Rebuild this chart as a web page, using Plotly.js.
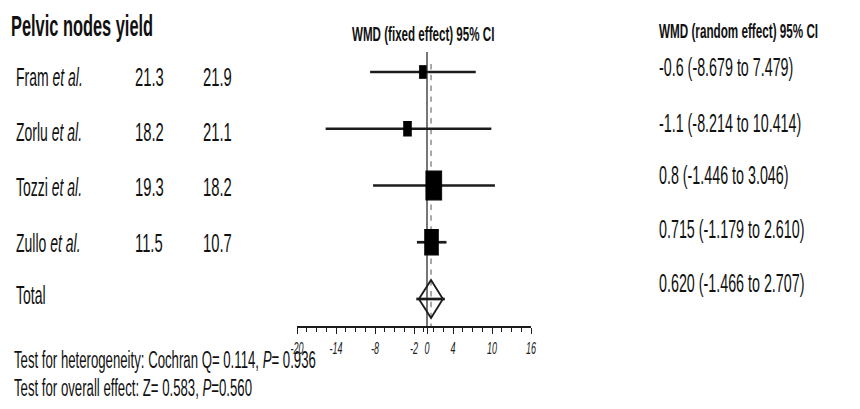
<!DOCTYPE html>
<html>
<head>
<meta charset="utf-8">
<script src="https://cdn.plot.ly/plotly-3.0.1.min.js"></script>
<style>
html,body{margin:0;padding:0;background:#fff;}
body{width:860px;height:409px;overflow:visible;}
#chart{width:860px;height:227px;transform:scaleY(1.8018);transform-origin:0 0;}
</style>
</head>
<body>
<div id="chart"></div>
<script>
// ---- data ----
var studies = ["Fram", "Zorlu", "Tozzi", "Zullo"];
var groupA = ["21.3", "18.2", "19.3", "11.5"];
var groupB = ["21.9", "21.1", "18.2", "10.7"];
var wmdText = ["-0.6 (-8.679 to 7.479)", "-1.1 (-8.214 to 10.414)", "0.8 (-1.446 to 3.046)", "0.715 (-1.179 to 2.610)", "0.620 (-1.466 to 2.707)"];
var estimate = [-0.65, -3.0, 1.05, 0.7];     // drawn point estimates
var ciLow = [-8.75, -15.6, -8.3, -1.55];
var ciHigh = [7.5, 9.9, 10.45, 3.0];
var weights = [8.7, 11.3, 45.3, 34.7];       // study weights (%)
var pooled = 0.62, pooledLow = -1.25, pooledHigh = 2.45;
var pooledLineLow = -1.65, pooledLineHigh = 2.75;
var tickVals = [-20, -14, -8, -2, 0, 4, 10, 16];
var tickText = ["-20", "-14", "-8", "-2", "0", "4", "10", "16"];
var hetText = "Test for heterogeneity: Cochran Q= 0.114, <i>P</i>= 0.936";
var overallText = "Test for overall effect: Z= 0.583, <i>P</i>=0.560";

// ---- geometry (reference pixel frame; the page is stretched vertically like the source) ----
var W = 860, H = 409;
var row0 = 72, rowStep = 56.75;
var xPx0 = 297, xPx1 = 531, xMin = -20, xMax = 16;
function rowFromPx(py) { return (py - row0) / rowStep; }
function py2paper(py) { return 1 - py / H; }
var FONT = "Liberation Sans, Arial, Helvetica, sans-serif";
var INK = "#1c1c1c";

var traces = [];
var lx = [], ly = [];
for (var i = 0; i < studies.length; i++) { lx.push(ciLow[i], ciHigh[i], null); ly.push(i, i, null); }
lx.push(pooledLineLow, pooledLineHigh, null); ly.push(4, 4, null);
traces.push({type: "scatter", mode: "lines", x: lx, y: ly, line: {color: INK, width: 1.5}, hoverinfo: "skip"});

var sizes = weights.map(function (w) { return 2.38 * Math.sqrt(w); });
traces.push({type: "scatter", mode: "markers", x: estimate, y: [0, 1, 2, 3],
  marker: {symbol: "square", size: sizes, color: "#000", opacity: 1, line: {width: 0.6, color: "#000"}}, hoverinfo: "skip"});

var dh = 19 / rowStep;
traces.push({type: "scatter", mode: "lines",
  x: [pooledLow, pooled, pooledHigh, pooled, pooledLow],
  y: [4, 4 - dh, 4, 4 + dh, 4],
  line: {color: INK, width: 1.4}, hoverinfo: "skip"});

var shapes = [
  {type: "line", layer: "below", xref: "x", yref: "y", x0: 0, x1: 0, y0: rowFromPx(52), y1: rowFromPx(326), line: {color: INK, width: 1.2}},
  {type: "line", layer: "below", xref: "x", yref: "y", x0: pooled, x1: pooled, y0: rowFromPx(64), y1: rowFromPx(326), line: {color: "#555", width: 1, dash: "dot"}}
];

var ann = [];
function addText(txt, px, py, size, opts) {
  opts = opts || {};
  ann.push({xref: "paper", yref: "paper", x: px / W, y: py2paper(py), text: txt, showarrow: false,
    xanchor: opts.xanchor || "left", yanchor: "middle",
    font: {family: FONT, size: size, color: "#111", weight: opts.weight || "normal"}});
}
addText("Pelvic nodes yield", 9, 26, 16.4, {weight: "bold"});
addText("WMD (fixed effect) 95% CI", 423, 33, 11.6, {xanchor: "center", weight: "bold"});
addText("WMD (random effect) 95% CI", 657, 30, 11.7, {weight: "bold"});
var leftRows = [77, 132, 188, 244];
for (var i = 0; i < studies.length; i++) {
  addText(studies[i] + " <i>et al.</i>", 14, leftRows[i], 14);
  addText(groupA[i], 133, leftRows[i], 14.8);
  addText(groupB[i], 201, leftRows[i], 14.8);
}
addText("Total", 14, 296, 14);
var rightRows = [67, 122, 175, 229, 282];
for (var i = 0; i < wmdText.length; i++) addText(wmdText[i], 657, rightRows[i], 14.3);
addText(hetText, 12, 360, 13.2);
addText(overallText, 12, 388, 13.2);

var layout = {
  width: W, height: 227, margin: {l: 0, r: 0, t: 0, b: 0},
  paper_bgcolor: "#fff", plot_bgcolor: "rgba(0,0,0,0)", showlegend: false,
  xaxis: {domain: [xPx0 / W, xPx1 / W], range: [xMin, xMax], anchor: "free", position: py2paper(326),
    showgrid: false, zeroline: false, showline: true, linecolor: INK, linewidth: 1.3,
    tickmode: "array", tickvals: tickVals, ticktext: tickText, ticks: "outside", ticklen: 3.3, tickcolor: INK, tickwidth: 1,
    tickfont: {family: FONT, size: 9, color: "#222", style: "italic"},
    minor: {tickmode: "linear", tick0: -20, dtick: 1.5, ticks: "outside", ticklen: 2.2, tickcolor: INK, tickwidth: 1, showgrid: false},
    fixedrange: true},
  yaxis: {domain: [0, 1], range: [rowFromPx(H), rowFromPx(0)], visible: false, fixedrange: true},
  shapes: shapes, annotations: ann
};
Plotly.newPlot("chart", traces, layout, {staticPlot: true, displayModeBar: false});
</script>
</body>
</html>
